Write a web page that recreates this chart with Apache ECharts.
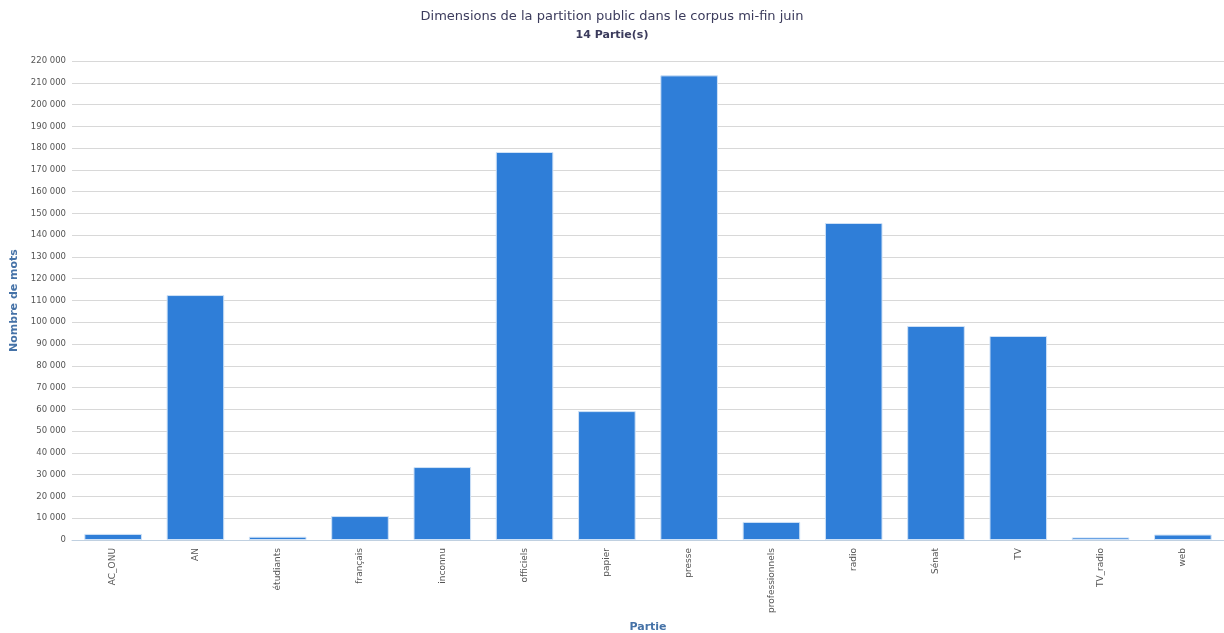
<!DOCTYPE html>
<html><head><meta charset="utf-8">
<script src="https://cdn.jsdelivr.net/npm/echarts@6/dist/echarts.min.js"></script>
<style>html,body{margin:0;padding:0;background:#fff}#c{width:1224px;height:633px}</style>
</head><body><div id="c"></div>
<script>
const categories = ['AC_ONU','AN','étudiants','français','inconnu','officiels','papier','presse','professionnels','radio','Sénat','TV','TV_radio','web'];
const values = [2800,112500,1500,11000,33500,178200,59200,213400,8300,145600,98300,93700,1200,2500];
const titleText = 'Dimensions de la partition public dans le corpus mi-fin juin';
const subtitleText = '14 Partie(s)';
const yName = 'Nombre de mots';
const xName = 'Partie';

const chart = echarts.init(document.getElementById('c'), null, {renderer:'canvas'});
const fmt = v => String(v).replace(/\B(?=(\d{3})+(?!\d))/g, ' ');
chart.setOption({
  animation:false,
  title:{text:titleText, subtext:subtitleText, left:'center', top:5, itemGap:7,
    textStyle:{fontFamily:'DejaVu Sans', fontSize:13, fontWeight:'normal', color:'#3b3b5c'},
    subtextStyle:{fontFamily:'DejaVu Sans', fontSize:11, fontWeight:'bold', color:'#3b3b5c'}},
  grid:{left:72, right:0, top:61, bottom:93, containLabel:false, outerBoundsMode:'none'},
  xAxis:{type:'category', data:categories, name:xName, nameLocation:'middle', nameGap:82,
    nameTextStyle:{fontFamily:'DejaVu Sans', fontSize:11, fontWeight:'bold', color:'#4572a7'},
    axisLine:{lineStyle:{color:'#c0d0e0'}}, axisTick:{lineStyle:{color:'#c0d0e0'}, length:5},
    axisLabel:{rotate:90, fontFamily:'DejaVu Sans', fontSize:9, color:'#555', margin:8, interval:0}},
  yAxis:{type:'value', min:0, max:220000, interval:10000, name:yName, nameLocation:'middle', nameGap:50,
    nameTextStyle:{fontFamily:'DejaVu Sans', fontSize:11, fontWeight:'bold', color:'#4572a7'},
    axisLine:{show:false}, axisTick:{show:false},
    splitLine:{lineStyle:{color:'#d8d8d8'}},
    axisLabel:{formatter:fmt, fontFamily:'DejaVu Sans', fontSize:8.5, color:'#555', margin:6}},
  series:[{type:'bar', data:values, barWidth:'70%',
    itemStyle:{color:'#2f7ed8', borderColor:'#cfe2f7', borderWidth:1}}]
});
</script></body></html>
